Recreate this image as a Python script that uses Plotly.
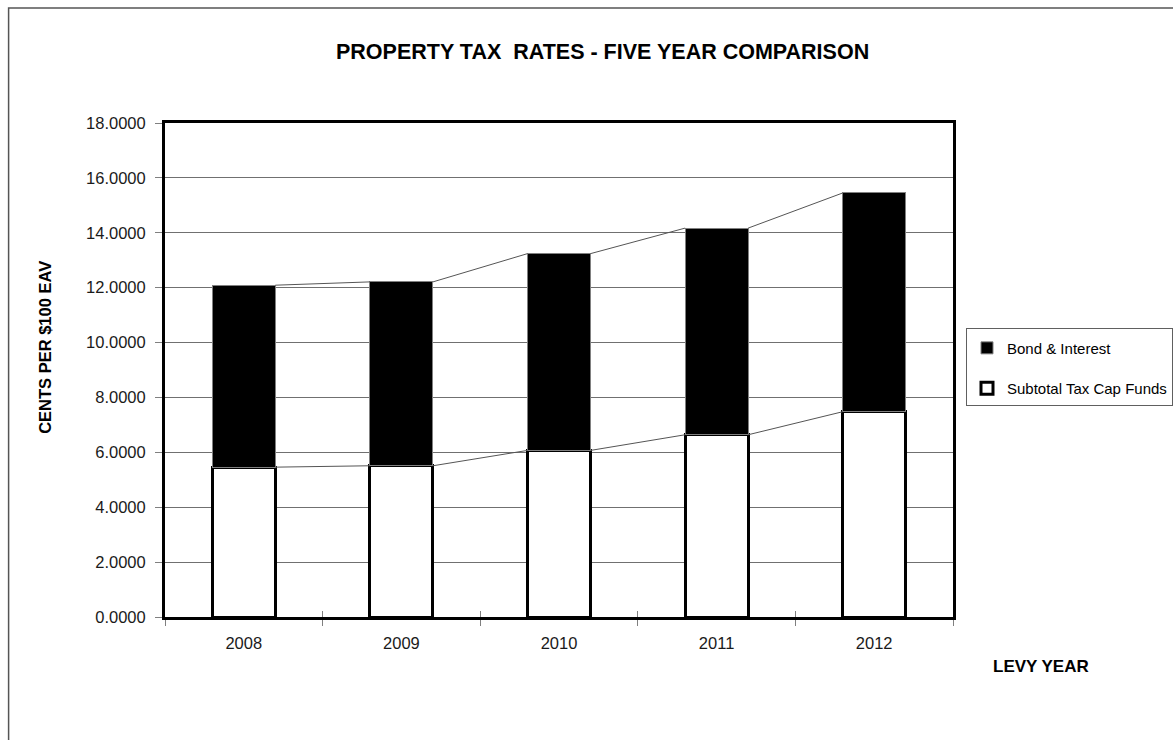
import plotly.graph_objects as go

years = ["2008", "2009", "2010", "2011", "2012"]
tax_cap = [5.46, 5.51, 6.07, 6.64, 7.48]
bond_interest = [6.63, 6.70, 7.17, 7.53, 7.97]
y_ticks = [0, 2, 4, 6, 8, 10, 12, 14, 16, 18]

FONT = "Liberation Sans, Arial, sans-serif"

totals = [a + b for a, b in zip(tax_cap, bond_interest)]
BW = 0.4

# series lines between adjacent bars (connect tops of segments)
def series_line(vals):
    xs, ys = [], []
    for i in range(len(vals) - 1):
        xs += [i + BW / 2, i + 1 - BW / 2, None]
        ys += [vals[i], vals[i + 1], None]
    return xs, ys

fig = go.Figure()
fig.add_trace(go.Bar(
    x=years, y=tax_cap, name="Subtotal Tax Cap Funds", width=BW,
    marker=dict(color="white", line=dict(color="black", width=3)),
    legendgroup="a", legendrank=2,
))
fig.add_trace(go.Bar(
    x=years, y=bond_interest, name="Bond & Interest", width=BW,
    marker=dict(color="black", line=dict(color="#808080", width=1)),
    legendgroup="b", legendrank=1,
))
for vals in (tax_cap, totals):
    xs, ys = series_line(vals)
    fig.add_trace(go.Scatter(
        x=xs, y=ys, xaxis="x2", mode="lines", showlegend=False,
        line=dict(color="#555555", width=1), hoverinfo="skip",
    ))

L, R, T, B = 164.5, 953.0, 123.0, 617.5
W, H = 1173, 740
pw, ph = R - L, B - T

def px(x):
    return (x - L) / pw

def py(y):
    return (B - y) / ph

fig.update_layout(
    width=W, height=H,
    margin=dict(l=L, r=W - R, t=T, b=H - B, pad=0, autoexpand=False),
    paper_bgcolor="white", plot_bgcolor="white",
    barmode="stack", bargap=0.6,
    font=dict(family=FONT, size=16, color="black"),
    showlegend=True,
    legend=dict(
        xref="container", yref="container",
        x=966 / W, y=1 - 328 / H, xanchor="left", yanchor="top",
        bordercolor="#606060", borderwidth=1, bgcolor="white",
        traceorder="grouped", tracegroupgap=18,
        itemwidth=30, valign="middle",
        font=dict(family=FONT, size=15, color="black"),
        title=dict(text=" ", font=dict(size=2)),
    ),
    xaxis=dict(
        type="category", showgrid=False, zeroline=False,
        showline=True, linecolor="black", linewidth=3, mirror=True,
        ticks="outside", ticklen=6, tickcolor="#808080", tickwidth=1,
        tickson="boundaries", ticklabelstandoff=9,
        tickfont=dict(family=FONT, size=16.5, color="#1a1a1a"),
    ),
    xaxis2=dict(
        overlaying="x", anchor="y", side="bottom", range=[-0.5, 4.5],
        tickvals=[-0.5, 0.5, 1.5, 2.5, 3.5, 4.5], showticklabels=False,
        ticks="inside", ticklen=6, tickcolor="#808080", tickwidth=1,
        showgrid=False, zeroline=False, showline=False,
    ),
    yaxis=dict(
        range=[0, 18], tickvals=y_ticks, tickformat=".4f",
        showgrid=True, gridcolor="#707070", gridwidth=1, zeroline=False,
        showline=True, linecolor="black", linewidth=3, mirror=True,
        ticks="outside", ticklen=7, tickcolor="#808080", tickwidth=1,
        ticklabelstandoff=6,
        tickfont=dict(family=FONT, size=16.5, color="#1a1a1a"),
    ),
    annotations=[
        dict(text="<b>PROPERTY TAX\u00a0 RATES - FIVE YEAR COMPARISON</b>",
             xref="paper", yref="paper", x=px(602), y=py(52),
             xanchor="center", yanchor="middle", showarrow=False,
             font=dict(family=FONT, size=21.5, color="black")),
        dict(text="<b>CENTS PER $100 EAV</b>", textangle=-90,
             xref="paper", yref="paper", x=px(45), y=py(347.5),
             xanchor="center", yanchor="middle", showarrow=False,
             font=dict(family=FONT, size=16.5, color="black")),
        dict(text="<b>LEVY YEAR</b>",
             xref="paper", yref="paper", x=px(1041), y=py(667),
             xanchor="center", yanchor="middle", showarrow=False,
             font=dict(family=FONT, size=17, color="black")),
    ],
    shapes=[
        dict(type="rect", xref="paper", yref="paper", layer="below",
             x0=px(8), x1=px(1190), y0=py(8), y1=py(760),
             line=dict(color="#555555", width=1.5), fillcolor="rgba(0,0,0,0)"),
    ],
)

fig.write_html("out.html")
